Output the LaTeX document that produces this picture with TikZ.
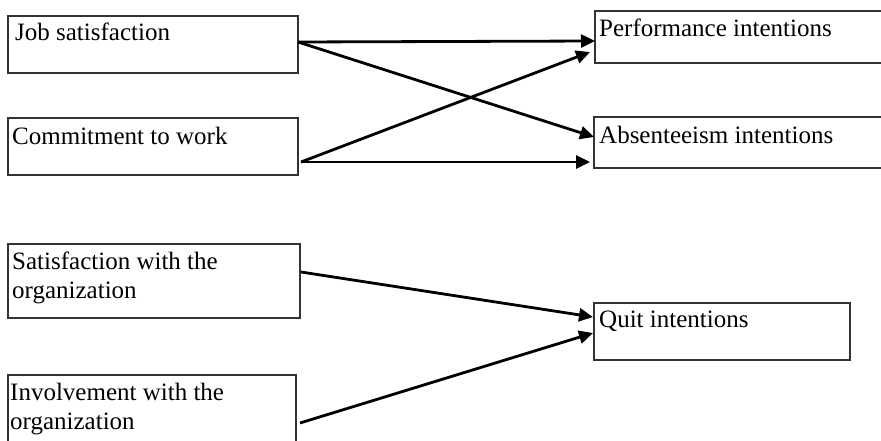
\documentclass[tikz,border=0pt]{standalone}
\usepackage{fontspec}
\setmainfont{Liberation Serif}
\usetikzlibrary{arrows.meta}
\begin{document}
\begin{tikzpicture}[x=1pt,y=-1pt,
  box/.style={draw=black!80, line width=1.4pt, rectangle, inner sep=0pt, outer sep=0pt, anchor=north west},
  lbl/.style={anchor=base west, inner sep=0pt, align=left, font=\fontsize{25}{29}\selectfont},
  link/.style={line width=2.8pt, -{Triangle[length=14pt,width=13pt]}, shorten >=0pt}]
  \clip (0,0) rectangle (881,441);
  \useasboundingbox (0,0) rectangle (881,441);

  % left column: predictors
  \node[box, minimum width=290pt, minimum height=57pt] (job) at (8,16) {};
  \node[box, minimum width=290pt, minimum height=57pt] (comm) at (8,118) {};
  \node[box, minimum width=292pt, minimum height=74pt] (sat) at (8,244) {};
  \node[box, minimum width=288pt, minimum height=80pt] (inv) at (8,375) {};

  % right column: intentions
  \node[box, minimum width=300pt, minimum height=52pt] (perf) at (595,11) {};
  \node[box, minimum width=300pt, minimum height=51pt] (abs) at (594,117) {};
  \node[box, minimum width=256pt, minimum height=57pt] (quit) at (594,303) {};

  % labels (two-line labels are placed by the baseline of their last line)
  \node[lbl] (jobt) at ([xshift=7pt,yshift=-25pt]job.north west) {Job satisfaction};
  \node[lbl] (commt) at ([xshift=4pt,yshift=-27pt]comm.north west) {Commitment to work};
  \node[lbl] (satt) at ([xshift=4pt,yshift=-54pt]sat.north west) {Satisfaction with the\\organization};
  \node[lbl] (invt) at ([xshift=2pt,yshift=-54pt]inv.north west) {Involvement with the\\organization};
  \node[lbl] (perft) at ([xshift=4pt,yshift=-26pt]perf.north west) {Performance intentions};
  \node[lbl] (abst) at ([xshift=5pt,yshift=-26pt]abs.north west) {Absenteeism intentions};
  \node[lbl] (quitt) at ([xshift=5pt,yshift=-24pt]quit.north west) {Quit intentions};

  % connectors
  \draw[link] ([yshift=-26pt]job.north east) -- ([yshift=-30pt]perf.north west);
  \draw[link] ([yshift=-26pt]job.north east) -- ([yshift=-20pt]abs.north west);
  \draw[link] ([xshift=3pt,yshift=-44pt]comm.north east) -- ([xshift=-5pt,yshift=-41pt]perf.north west);
  \draw[link] ([xshift=3pt,yshift=-44pt]comm.north east) -- ([xshift=-4pt,yshift=-45pt]abs.north west);
  \draw[link] ([xshift=1pt,yshift=-28pt]sat.north east) -- ([xshift=-1pt,yshift=-14pt]quit.north west);
  \draw[link] ([xshift=4pt,yshift=-48pt]inv.north east) -- ([xshift=-1pt,yshift=-30pt]quit.north west);
\end{tikzpicture}
\end{document}
